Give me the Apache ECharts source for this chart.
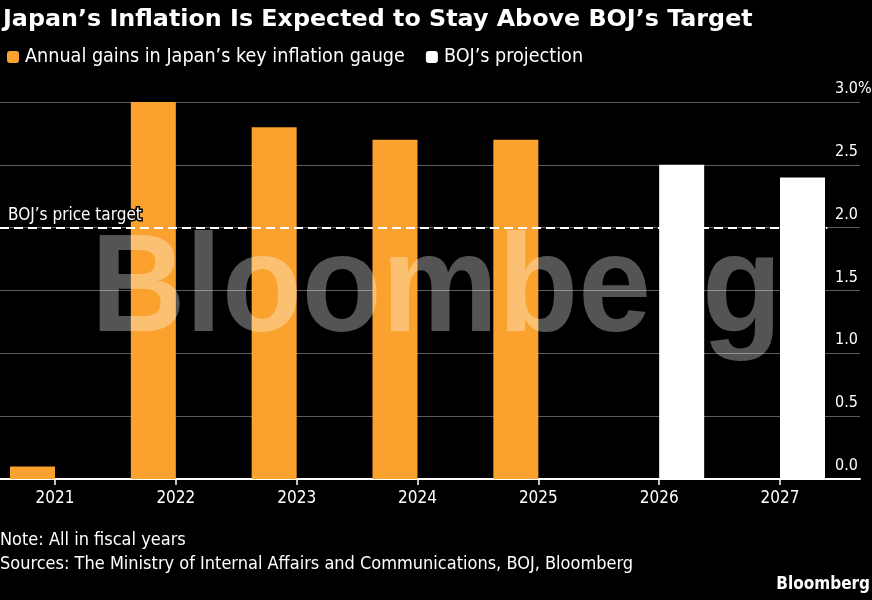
<!DOCTYPE html>
<html>
<head>
<meta charset="utf-8">
<script src="https://cdn.jsdelivr.net/npm/echarts@6/dist/echarts.min.js"></script>
<style>
html,body{margin:0;padding:0;background:#000;}
#c{width:872px;height:600px;}
</style>
</head>
<body>
<div id="c"></div>
<script>
const categories = ['2021', '2022', '2023', '2024', '2025', '2026', '2027'];
const actualGains = [0.1, 3.0, 2.8, 2.7, 2.7, null, null];
const bojProjection = [null, null, null, null, null, 2.5, 2.4];
const priceTarget = 2.0;
const yMin = 0, yMax = 3, yStep = 0.5;

const NARROW = "'DejaVu Sans Condensed', 'Liberation Sans Narrow', sans-serif";
const TITLE = "'DejaVu Sans', 'Liberation Sans', sans-serif";
const WM = "'Liberation Sans', 'DejaVu Sans', sans-serif";

const chart = echarts.init(document.getElementById('c'));
chart.setOption({
  backgroundColor: '#000',
  animation: false,
  title: {
    text: 'Japan\u2019s Inflation Is Expected to Stay Above BOJ\u2019s Target',
    left: -2, top: 3,
    textStyle: { color: '#fff', fontSize: 23.8, fontWeight: 'bold', fontFamily: TITLE }
  },
  legend: {
    left: 2, top: 42,
    itemWidth: 12, itemHeight: 12, itemGap: 21,
    icon: 'roundRect',
    data: ['Annual gains in Japan\u2019s key inflation gauge', 'BOJ\u2019s projection'],
    textStyle: { color: '#fff', fontSize: 19.6, fontFamily: NARROW, padding: [0, 0, 0, 1] }
  },
  grid: [
    { left: 55, right: 92, top: 102, bottom: 121, outerBoundsMode: 'none', containLabel: false },
    { left: 0, right: 12, top: 102, bottom: 121, outerBoundsMode: 'none', containLabel: false }
  ],
  xAxis: [
    {
      gridIndex: 0, type: 'category', data: categories, boundaryGap: false,
      axisLine: { show: false },
      axisTick: { show: true, length: 6, lineStyle: { color: '#fff', width: 1.5 } },
      axisLabel: { color: '#fff', fontSize: 17, fontFamily: NARROW, margin: 11 }
    },
    {
      gridIndex: 1, type: 'value', min: 0, max: 1,
      axisLine: { show: true, onZero: false, lineStyle: { color: '#fff', width: 2 } },
      axisTick: { show: false }, axisLabel: { show: false }, splitLine: { show: false }
    }
  ],
  yAxis: [
    { gridIndex: 0, type: 'value', min: yMin, max: yMax, interval: yStep, show: false },
    {
      gridIndex: 1, type: 'value', position: 'right', min: yMin, max: yMax, interval: yStep,
      axisLine: { show: false }, axisTick: { show: false },
      splitLine: { show: true, lineStyle: { color: '#5c5c5c', width: 1 } },
      axisLabel: {
        inside: true, align: 'left', margin: 25,
        color: '#fff', fontSize: 16, fontFamily: NARROW,
        verticalAlign: 'bottom', padding: [0, 0, 5, 0],
        formatter: v => v === yMax ? v.toFixed(1) + '%' : v.toFixed(1)
      }
    }
  ],
  series: [
    {
      name: 'Annual gains in Japan\u2019s key inflation gauge', type: 'bar',
      xAxisIndex: 0, yAxisIndex: 0, barWidth: 45, barGap: '0%',
      itemStyle: { color: '#FBA22E' }, data: actualGains
    },
    {
      name: 'BOJ\u2019s projection', type: 'bar',
      xAxisIndex: 0, yAxisIndex: 0, barWidth: 45, barGap: '0%',
      itemStyle: { color: '#fff' }, data: bojProjection
    },
    {
      name: 'target', type: 'line', xAxisIndex: 1, yAxisIndex: 1, z: 5,
      data: [], symbol: 'none',
      markLine: {
        silent: true, symbol: 'none',
        lineStyle: { color: '#fff', type: [9, 5], width: 2 },
        label: {
          show: true, position: 'insideStartTop', distance: [8, 4],
          formatter: 'BOJ\u2019s price target',
          color: '#fff', fontSize: 17, fontFamily: NARROW,
          textBorderColor: '#000', textBorderWidth: 3
        },
        data: [[{ xAxis: 0, yAxis: priceTarget }, { xAxis: 0.962, yAxis: priceTarget }]]
      }
    }
  ],
  graphic: [
    {
      type: 'text', left: 91, top: 222, z: 10, scaleX: 0.935, silent: true,
      style: { text: 'Bloomberg', fill: 'rgba(255,255,255,0.33)', font: 'bold 140px ' + WM }
    },
    {
      type: 'text', left: 0, top: 531,
      style: { text: 'Note: All in fiscal years', fill: '#fff', font: '18px ' + NARROW }
    },
    {
      type: 'text', left: 0, top: 555,
      style: { text: 'Sources: The Ministry of Internal Affairs and Communications, BOJ, Bloomberg', fill: '#fff', font: '18px ' + NARROW }
    },
    {
      type: 'text', right: 2, top: 576,
      style: { text: 'Bloomberg', fill: '#fff', font: 'bold 17px ' + NARROW }
    }
  ]
});
</script>
</body>
</html>
